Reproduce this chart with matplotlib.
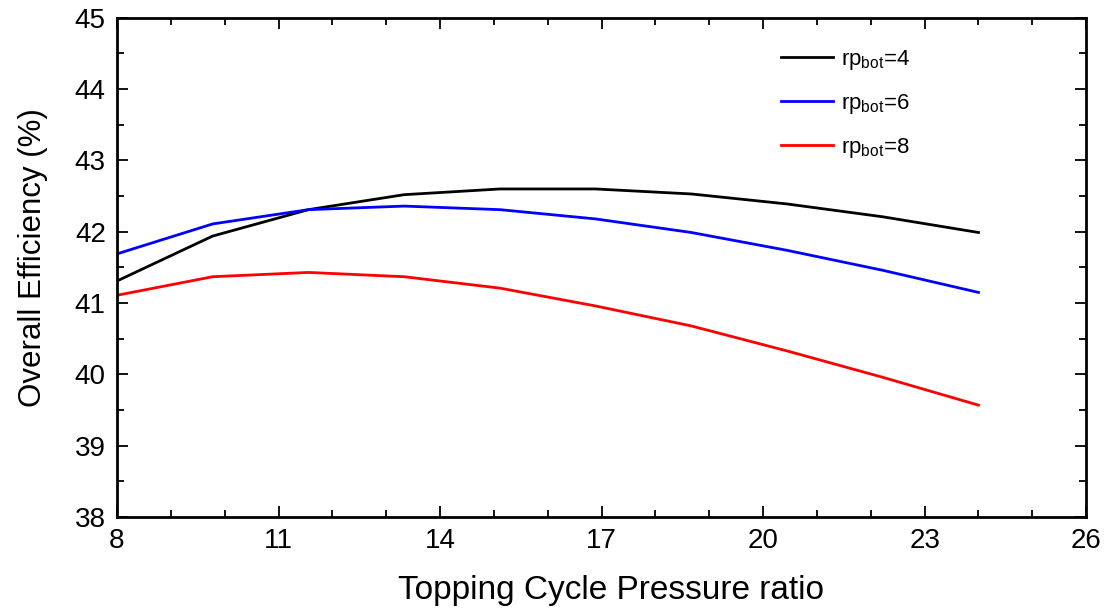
import matplotlib.pyplot as plt
import numpy as np

plt.rcParams['font.family'] = 'Liberation Sans'
plt.rcParams['mathtext.fontset'] = 'custom'
plt.rcParams['mathtext.rm'] = 'Liberation Sans'

# Relacion de presion del ciclo superior
rp_top = np.linspace(8, 24, 10)

eff_rp4 = [41.31, 41.94, 42.31, 42.52, 42.60, 42.60, 42.53, 42.39, 42.21, 41.99]
eff_rp6 = [41.69, 42.11, 42.31, 42.36, 42.31, 42.18, 41.99, 41.74, 41.46, 41.15]
eff_rp8 = [41.11, 41.37, 41.43, 41.37, 41.21, 40.96, 40.68, 40.33, 39.96, 39.57]

x_ticks = [8, 11, 14, 17, 20, 23, 26]
y_ticks = [38, 39, 40, 41, 42, 43, 44, 45]

fig = plt.figure(figsize=(11.14, 6.12), dpi=100)
ax = fig.add_axes([0.105, 0.155, 0.87, 0.816])

ax.plot(rp_top, eff_rp4, '-', color='black', lw=2, label=r'rp$_{\mathrm{bot}}$=4')
ax.plot(rp_top, eff_rp6, '-', color='blue', lw=2, label=r'rp$_{\mathrm{bot}}$=6')
ax.plot(rp_top, eff_rp8, '-', color='red', lw=2, label=r'rp$_{\mathrm{bot}}$=8')

ax.set_xlim(8, 26)
ax.set_ylim(38, 45)
ax.set_xticks(x_ticks)
ax.set_xticks(np.arange(8, 27, 1), minor=True)
ax.set_yticks(y_ticks)
ax.set_yticks(np.arange(38, 45.01, 0.5), minor=True)

ax.tick_params(which='both', direction='in', top=True, right=True, width=1.3, labelsize=20)
ax.tick_params(which='major', length=8, pad=8)
ax.tick_params(which='minor', length=5)
for s in ax.spines.values():
    s.set_linewidth(2)

ax.set_xlabel("Topping Cycle Pressure ratio", fontsize=24)
ax.set_ylabel("Overall Efficiency (%)", fontsize=22.5)
ax.xaxis.set_label_coords(0.51, -0.115)
ax.yaxis.set_label_coords(-0.071, 0.52)

# Leyenda sin marco, arriba a la derecha
ax.legend(loc='upper left', bbox_to_anchor=(0.665, 0.98), frameon=False, fontsize=16,
          handlelength=2.3, handletextpad=0.4, labelspacing=0.9)

plt.savefig("out.png", dpi=100)
